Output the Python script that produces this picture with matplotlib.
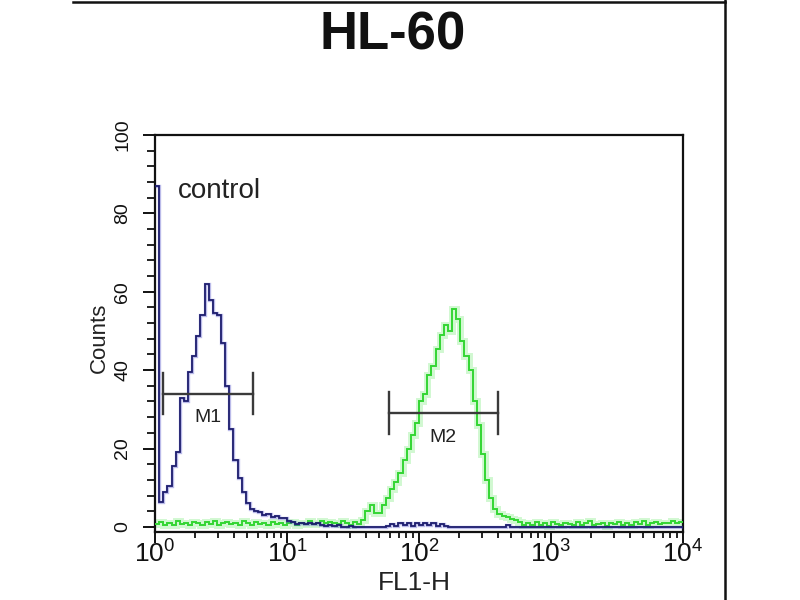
import matplotlib
matplotlib.use("Agg")
import matplotlib.pyplot as plt
from matplotlib.lines import Line2D
from matplotlib.ticker import FixedLocator, MultipleLocator, LogLocator, FuncFormatter, NullFormatter
from matplotlib import font_manager
import numpy as np

# ---------------- data ----------------
title = "HL-60"
sample_label = "control"
x_label = "FL1-H"
y_label = "Counts"
decade_ticks = [1, 10, 100, 1000, 10000]
decade_exps = [0, 1, 2, 3, 4]
count_ticks = [0, 20, 40, 60, 80, 100]

# 32 channels per decade, 10^0 .. 10^4
channels_per_decade = 32

control_counts = [
    87, 6.3, 9, 10.5, 15.6, 19, 33, 32, 39.5, 43.5,
    48.7, 54, 62, 58, 54.5, 54, 47, 36, 25, 17,
    12.5, 9, 6, 4.5, 4, 3.8, 3, 3.3, 2.6, 2.9,
    2.2, 2.3, 1.5, 1.3, 0.8, 1.0, 0.8, 1.0, 0.7, 0.9,
    0.6, 0.3, 0.5, 0.2, 0.4, 0.1, 0, 0.2, 0, 0,
    0.1, 0, 0, 0, 0, 0, 0.2, 0.8, 0.3, 0.9,
    0.4, 1.0, 0.3, 0.9, 0.5, 1.0, 0.4, 0.9, 0.3, 0.8,
    0.2, 0, 0, 0, 0, 0, 0, 0, 0, 0,
    0, 0, 0, 0, 0, 0.6, 0, 0, 0, 0,
    0, 0, 0, 0, 0, 0, 0, 0, 0, 0,
    0, 0, 0, 0, 0, 0, 0, 0, 0, 0,
    0, 0, 0, 0, 0, 0, 0, 0, 0, 0,
    0, 0, 0, 0, 0, 0, 0, 0,
]

stained_counts = [
    0.8, 1.2, 0.5, 1.0, 0.6, 1.4, 0.7, 1.1, 0.4, 1.3,
    0.9, 0.6, 1.2, 0.8, 1.5, 0.5, 1.0, 1.3, 0.7, 1.1,
    0.6, 1.4, 0.9, 0.5, 1.2, 0.8, 1.0, 0.6, 1.3, 0.7,
    1.1, 0.5, 0.9, 1.2, 0.6, 1.0, 0.8, 1.4, 0.7, 1.1,
    1.6, 0.9, 1.3, 1.0,
    0.8, 1.5, 1.0, 0.5, 1.2, 0.8, 1.8, 4, 5.5, 3.5,
    3.6, 5.5, 7.5, 9.6, 11.5, 13.7, 17, 20, 23.5, 26.5,
    32, 34, 38.7, 41, 45.5, 49, 51.5, 50, 55.5, 53,
    47.5, 43.5, 40, 32, 26, 18.5, 12, 7.5, 4.5, 3.4,
    2.8, 2.5, 2.0, 1.7, 1.2, 0.5,
    0.9, 0.4, 1.2, 0.6, 1.0, 0.3, 1.3, 0.7, 0.5, 1.1,
    0.8, 0.4, 1.2, 0.6, 0.9, 1.4, 0.5, 0.8, 1.1, 0.3,
    1.0, 0.7, 1.3, 0.6, 0.9, 0.4, 1.2, 0.8, 1.5, 0.6,
    1.0, 1.3, 0.7, 1.1, 0.9, 1.4, 1.0, 1.2,
]

# marker gates
gate_names = ["M1", "M2"]
gate_low = [1.15, 59]
gate_high = [5.5, 396]
gate_level = [34, 29]

# ---------------- fonts ----------------
available = {f.name for f in font_manager.fontManager.ttflist}
narrow = "Liberation Sans Narrow" if "Liberation Sans Narrow" in available else "Liberation Sans"
plt.rcParams["font.family"] = ["Liberation Sans", "DejaVu Sans"]
plt.rcParams["mathtext.fontset"] = "custom"
plt.rcParams["mathtext.rm"] = narrow
plt.rcParams["mathtext.it"] = narrow
plt.rcParams["mathtext.bf"] = narrow

# ---------------- figure ----------------
fig = plt.figure(figsize=(8, 6), dpi=100)
W, H = 800, 600
ax = fig.add_axes([155 / W, 1 - 532 / H, (683 - 155) / W, (532 - 135) / H])

n_bins = len(control_counts)
edges = np.logspace(0, n_bins / channels_per_decade, n_bins + 1)

# stained (green) with glow
ax.stairs(stained_counts, edges, color="#9af09a", linewidth=5, alpha=0.45, baseline=None, zorder=2)
ax.stairs(stained_counts, edges, color="#33d633", linewidth=1.4, baseline=None, zorder=3)
# control (navy)
ax.stairs(control_counts, edges, color="#3a3ac0", linewidth=2.4, alpha=0.35, baseline=None, zorder=4)
ax.stairs(control_counts, edges, color="#1d1d6e", linewidth=1.3, baseline=None, zorder=5)

# gates
for name, lo, hi, lev in zip(gate_names, gate_low, gate_high, gate_level):
    ax.plot([lo, hi], [lev, lev], color="#3a3a3a", lw=1.7, zorder=6)
    ax.plot([lo, lo], [lev - 5.3, lev + 5.3], color="#3a3a3a", lw=1.7, zorder=6)
    ax.plot([hi, hi], [lev - 5.3, lev + 5.3], color="#3a3a3a", lw=1.7, zorder=6)
    ax.text(np.sqrt(lo * hi), lev - 4.0, name, ha="center", va="top",
            fontsize=14, color="#222222", family=[narrow, "Liberation Sans"], zorder=7)

ax.text(0.043, 0.86, sample_label, transform=ax.transAxes, fontsize=20,
        color="#222222", ha="left", va="center")

ax.set_xscale("log")
ax.set_xlim(1, 10000)
ax.set_ylim(-1.3, 100)

ax.xaxis.set_major_locator(FixedLocator(decade_ticks))
ax.xaxis.set_minor_locator(LogLocator(base=10, subs=np.arange(2, 10)))
ax.xaxis.set_minor_formatter(NullFormatter())
ax.xaxis.set_major_formatter(FuncFormatter(
    lambda v, p: r"$\mathrm{10^{%d}}$" % decade_exps[decade_ticks.index(int(round(v)))]
    if int(round(v)) in decade_ticks else ""))

ax.yaxis.set_major_locator(FixedLocator(count_ticks))
ax.yaxis.set_minor_locator(MultipleLocator(4))

for s in ax.spines.values():
    s.set_linewidth(1.6)
    s.set_color("#111111")

ax.tick_params(axis="x", which="major", direction="out", length=8, width=1.4,
               labelsize=19, pad=-2, colors="#111111")
ax.tick_params(axis="x", which="minor", direction="out", length=4, width=1.3, colors="#111111")
ax.tick_params(axis="y", which="major", direction="out", length=9, width=1.4,
               labelsize=14, pad=8, labelrotation=90, colors="#111111")
ax.tick_params(axis="y", which="minor", direction="out", length=6, width=1.3, colors="#111111")
for lab in ax.get_yticklabels():
    lab.set_family([narrow, "Liberation Sans"])
    lab.set_va("center")

ax.set_ylabel(y_label, fontsize=16, color="#222222")
ax.yaxis.set_label_coords((99 - 155) / (683 - 155), (532 - 338) / (532 - 135))
ax.yaxis.label.set_va("center")

ax.set_xlabel(x_label, fontsize=19, color="#222222", family=[narrow, "Liberation Sans"])
ax.xaxis.set_label_coords((414 - 155) / (683 - 155), (532 - 583) / (532 - 135))
ax.xaxis.label.set_va("center")

fig.text(393 / W, 1 - 36 / H, title, ha="center", va="center", fontsize=38,
         fontweight="bold", color="#111111")

# outer frame lines
fig.add_artist(Line2D([73 / W, 725 / W], [1 - 1.5 / H, 1 - 1.5 / H], transform=fig.transFigure,
                      color="#111111", lw=1.8))
fig.add_artist(Line2D([725 / W, 725 / W], [0, 1], transform=fig.transFigure,
                      color="#111111", lw=1.8))

fig.savefig("out.png", dpi=100)
